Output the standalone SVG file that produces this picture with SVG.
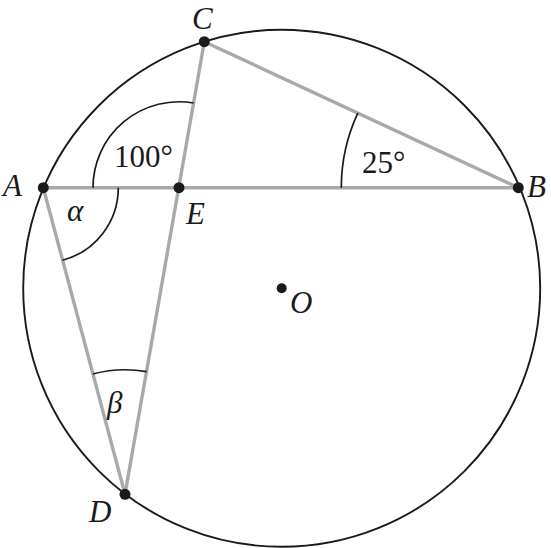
<svg xmlns="http://www.w3.org/2000/svg" width="551" height="548" viewBox="0 0 551 548">
<style>
.seg{stroke:#a7a9ac;stroke-width:3.4;fill:none;stroke-linecap:round}
.arc{stroke:#1a1a1a;stroke-width:1.7;fill:none}
.pt{fill:#1a1a1a}
.lbl{font-size:31px;font-style:italic;fill:#1a1a1a}
.num{font-size:31px;fill:#1a1a1a}
</style>
<rect width="551" height="548" fill="#ffffff"/>
<g id="circle">
<circle cx="281.7" cy="288.3" r="258.5" fill="none" stroke="#1a1a1a" stroke-width="1.9"/>
</g>
<g id="connectors">
<line class="seg" x1="43.3" y1="187.7" x2="518.3" y2="187.7"/>
<line class="seg" x1="204.3" y1="41.7" x2="518.3" y2="187.7"/>
<line class="seg" x1="204.3" y1="41.7" x2="125" y2="494.3"/>
<line class="seg" x1="43.3" y1="187.7" x2="125" y2="494.3"/>
</g>
<g id="angles">
<path class="arc" d="M93,187.7 A86,86 0 0 1 193.6,103"/>
<path class="arc" d="M118.3,187.7 A75,75 0 0 1 62.6,260.2"/>
<path class="arc" d="M92.9,374 A124.5,124.5 0 0 1 146.6,371.7"/>
<path class="arc" d="M341.3,187.7 A177,177 0 0 1 357.8,113.1"/>
</g>
<g font-family="Liberation Serif, DejaVu Serif, serif">
<g id="node-A"><circle class="pt" cx="43.3" cy="187.7" r="5.5"/><text class="lbl" x="3" y="196">A</text></g>
<g id="node-B"><circle class="pt" cx="518.3" cy="187.7" r="5.5"/><text class="lbl" x="527" y="197">B</text></g>
<g id="node-C"><circle class="pt" cx="204.3" cy="41.7" r="5.5"/><text class="lbl" x="192" y="29">C</text></g>
<g id="node-D"><circle class="pt" cx="125" cy="494.3" r="5.5"/><text class="lbl" x="89" y="522">D</text></g>
<g id="node-E"><circle class="pt" cx="179" cy="187.7" r="5.5"/><text class="lbl" x="186" y="224">E</text></g>
<g id="node-O"><circle class="pt" cx="281.7" cy="288.3" r="5"/><text class="lbl" x="290" y="313">O</text></g>
<g id="labels">
<text class="num" x="114" y="167">100°</text>
<text class="num" x="362" y="173">25°</text>
<text class="lbl" x="67" y="221">α</text>
<text class="lbl" x="107" y="413">β</text>
</g>
</g>
</svg>
